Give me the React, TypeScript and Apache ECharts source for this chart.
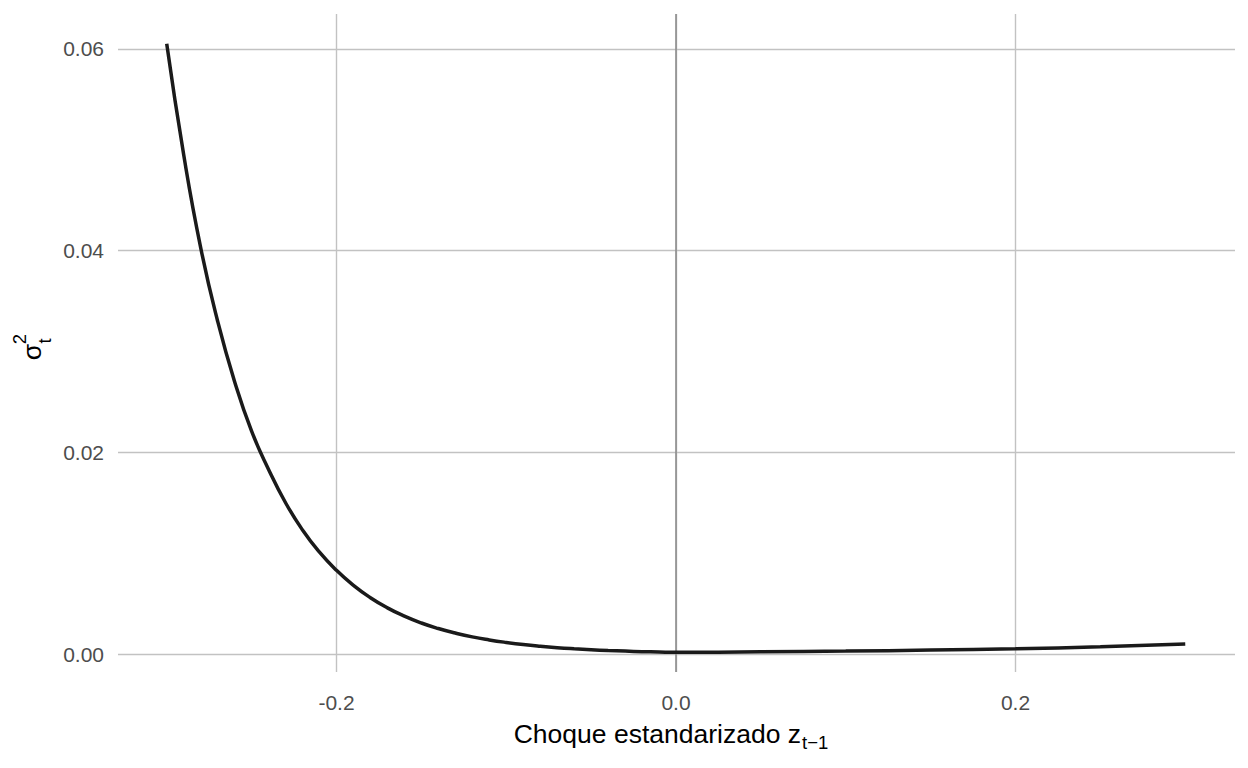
import React, { useEffect, useRef } from "react";
import * as echarts from "echarts";

// Shock values (x) and conditional variance (y)
const shockX: number[] = [
  -0.3, -0.29, -0.28, -0.27, -0.26, -0.25, -0.24, -0.23, -0.22, -0.21, -0.2,
  -0.19, -0.18, -0.17, -0.16, -0.15, -0.14, -0.13, -0.12, -0.11, -0.1, -0.09,
  -0.08, -0.07, -0.06, -0.05, -0.04, -0.03, -0.02, -0.01, 0.0, 0.05, 0.1, 0.15,
  0.2, 0.25, 0.3,
];
const varianceY: number[] = [
  0.0605, 0.0495, 0.0403, 0.033, 0.027, 0.0221, 0.0183, 0.015, 0.0123, 0.0101,
  0.0083, 0.00681, 0.00559, 0.00458, 0.00376, 0.00308, 0.00253, 0.00208,
  0.0017, 0.0014, 0.00115, 0.00094, 0.00077, 0.00063, 0.00052, 0.00043,
  0.00035, 0.00029, 0.00024, 0.0002, 0.00017, 0.00022, 0.00029, 0.00039,
  0.00052, 0.00072, 0.001,
];
const xTicks: number[] = [-0.2, 0, 0.2];
const yTicks: number[] = [0, 0.02, 0.04, 0.06];

const FONT = "'Liberation Sans', Arial, Helvetica, sans-serif";

export default function App() {
  const ref = useRef<HTMLDivElement>(null);

  useEffect(() => {
    if (!ref.current) return;
    const chart = echarts.init(ref.current, undefined, { renderer: "svg" });
    const data = shockX.map((x, i) => [x, varianceY[i]]);
    chart.setOption({
      animation: false,
      backgroundColor: "#ffffff",
      grid: { left: 118, right: 13, top: 14, bottom: 96, containLabel: false },
      xAxis: {
        type: "value",
        min: -0.3287,
        max: 0.3293,
        axisLine: { show: false },
        axisTick: { show: false, customValues: xTicks },
        axisLabel: {
          customValues: xTicks,
          formatter: (v: number) => v.toFixed(1),
          color: "#4d4d4d",
          fontSize: 21,
          fontFamily: FONT,
          margin: 20,
        },
        splitLine: { show: true, lineStyle: { color: "#c2c2c2", width: 1.4 } },
      },
      yAxis: {
        type: "value",
        min: -0.00178,
        max: 0.06346,
        axisLine: { show: false },
        axisTick: { show: false, customValues: yTicks },
        axisLabel: {
          customValues: yTicks,
          formatter: (v: number) => v.toFixed(2),
          color: "#4d4d4d",
          fontSize: 21,
          fontFamily: FONT,
          margin: 14,
        },
        splitLine: { show: true, lineStyle: { color: "#c2c2c2", width: 1.4 } },
      },
      series: [
        {
          type: "line",
          data,
          smooth: 0.5,
          showSymbol: false,
          symbol: "none",
          lineStyle: { color: "#1a1a1a", width: 3.5 },
          markLine: {
            silent: true,
            symbol: "none",
            label: { show: false },
            lineStyle: { color: "#8c8c8c", width: 1.6, type: "solid" },
            data: [{ xAxis: 0 }],
            z: 1,
          },
          z: 3,
        },
      ],
      graphic: [
        {
          type: "text",
          x: 801,
          y: 734,
          style: {
            text: "Choque estandarizado z",
            fontSize: 26.5,
            fontFamily: FONT,
            fill: "#000000",
            align: "right",
            verticalAlign: "middle",
          },
        },
        {
          type: "text",
          x: 802,
          y: 742,
          style: {
            text: "t\u22121",
            fontSize: 18.5,
            fontFamily: FONT,
            fill: "#000000",
            align: "left",
            verticalAlign: "middle",
          },
        },
        {
          type: "text",
          x: 32,
          y: 352,
          rotation: Math.PI / 2,
          style: {
            text: "\u03c3",
            fontSize: 26.5,
            fontFamily: FONT,
            fill: "#000000",
            align: "center",
            verticalAlign: "middle",
          },
        },
        {
          type: "text",
          x: 19,
          y: 339,
          rotation: Math.PI / 2,
          style: {
            text: "2",
            fontSize: 18.5,
            fontFamily: FONT,
            fill: "#000000",
            align: "center",
            verticalAlign: "middle",
          },
        },
        {
          type: "text",
          x: 44,
          y: 341,
          rotation: Math.PI / 2,
          style: {
            text: "t",
            fontSize: 18.5,
            fontFamily: FONT,
            fill: "#000000",
            align: "center",
            verticalAlign: "middle",
          },
        },
      ],
    });
    return () => chart.dispose();
  }, []);

  return (
    <div
      ref={ref}
      style={{ position: "fixed", left: 0, top: 0, width: 1248, height: 768 }}
    />
  );
}
